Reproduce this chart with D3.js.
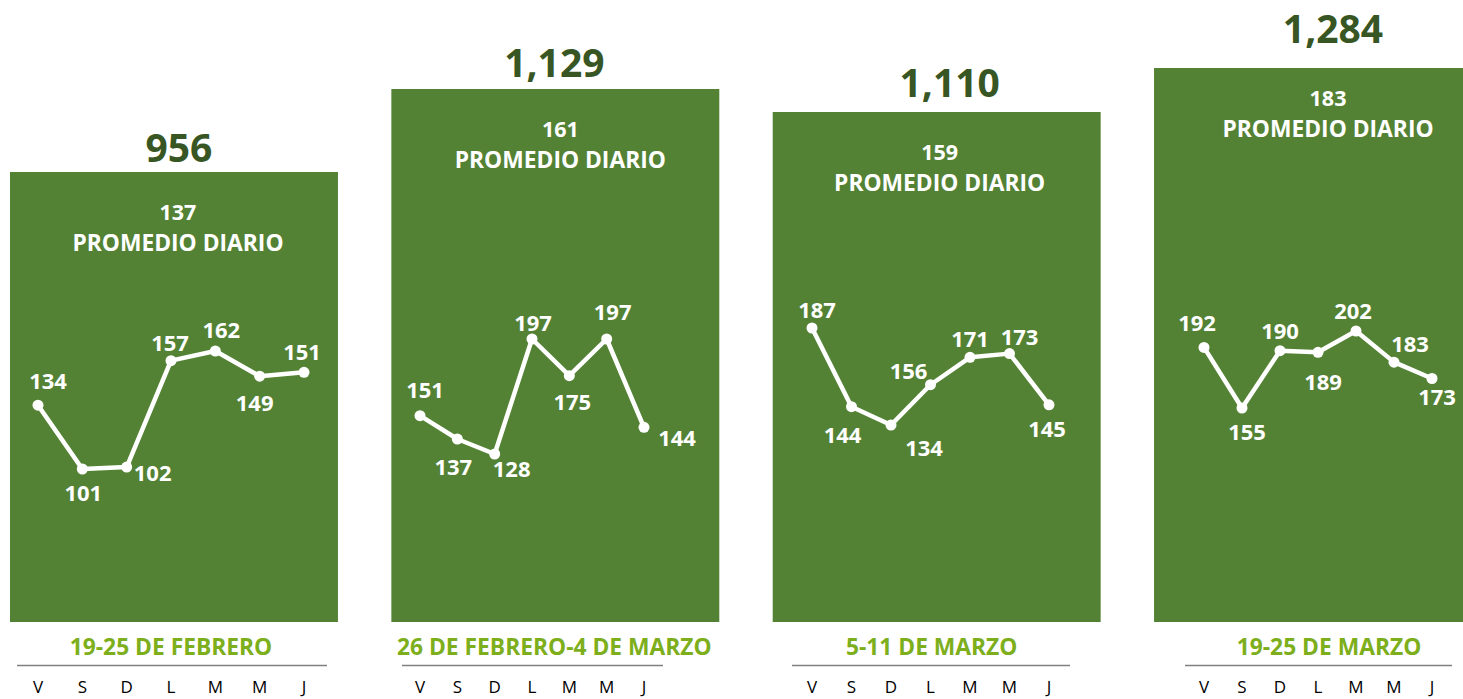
<!DOCTYPE html>
<html>
<head>
<meta charset="utf-8">
<script src="https://cdn.jsdelivr.net/npm/d3@7"></script>
<style>
  body { margin: 0; background: #fff; }
  text { font-family: "Open Sans", "Noto Sans", sans-serif; }
</style>
</head>
<body>
<div id="chart"></div>
<script>
// data
var weeks = ["19-25 DE FEBRERO", "26 DE FEBRERO-4 DE MARZO", "5-11 DE MARZO", "19-25 DE MARZO"];
var totals = [956, 1129, 1110, 1284];
var averages = [137, 161, 159, 183];
var days = ["V", "S", "D", "L", "M", "M", "J"];
var week1 = [134, 101, 102, 157, 162, 149, 151];
var week2 = [151, 137, 128, 197, 175, 197, 144];
var week3 = [187, 144, 134, 156, 171, 173, 145];
var week4 = [192, 155, 190, 189, 202, 183, 173];
var daily = [week1, week2, week3, week4];

// layout for each panel (offsets from the band)
var layout = [
  {xr: [38, 304], yr: [469, 351], totalDx: 5, totalGap: 10, avgDx: 4, avgDy: 0, periodDx: -3, rule: [17, 327],
   lab: [[10,-24],[1,24],[26,6],[-1,-18],[6,-21],[-5,27],[-2,-20]]},
  {xr: [420, 644], yr: [454, 339], totalDx: -1, totalGap: 12, avgDx: 5, avgDy: 0, periodDx: -1, rule: [402, 663],
   lab: [[5,-26],[-4,28],[17,15],[1,-16],[3,26],[6,-27],[33,11]]},
  {xr: [812, 1049], yr: [425, 328], totalDx: 13, totalGap: 15, avgDx: 3, avgDy: 0, periodDx: -5, rule: [792, 1070],
   lab: [[5,-18],[-9,28],[33,23],[-22,-14],[0,-18],[10,-17],[-2,24]]},
  {xr: [1204, 1432], yr: [408, 331], totalDx: 15, totalGap: 25, avgDx: 10, avgDy: -10, periodDx: 11, rule: [1185, 1452],
   lab: [[-7,-24],[5,24],[0,-20],[5,30],[-3,-20],[16,-18],[5,19]]}
];

var width = 1463, height = 699;
var baseY = 622;

var svg = d3.select("#chart")
  .append("svg")
    .attr("width", width)
    .attr("height", height);

var x = d3.scaleBand()
  .domain(d3.range(weeks.length))
  .range([10, 1482])
  .paddingInner(0.14)
  .paddingOuter(0);

// the bars in the original are not strictly proportional, follow them point by point
var barH = d3.scaleLinear()
  .domain([956, 1110, 1129, 1284])
  .range([450, 510, 533, 554]);

var green = "#548235", dark = "#375623", light = "#7DAE1B";

function renderPanel(i) {
  var lay = layout[i];
  var x0 = x(i), cx = x0 + x.bandwidth() / 2;
  var top = baseY - barH(totals[i]);

  svg.append("rect")
    .attr("x", x0)
    .attr("y", top)
    .attr("width", x.bandwidth())
    .attr("height", baseY - top)
    .attr("fill", green);

  // weekly total above the bar
  svg.append("text")
    .attr("x", cx + lay.totalDx)
    .attr("y", top - lay.totalGap)
    .attr("text-anchor", "middle")
    .attr("font-size", 39)
    .attr("font-weight", 700)
    .attr("fill", dark)
    .text(d3.format(",")(totals[i]));

  svg.append("text")
    .attr("x", cx + lay.avgDx)
    .attr("y", top + 48 + lay.avgDy)
    .attr("text-anchor", "middle")
    .attr("font-size", 21.5)
    .attr("font-weight", 700)
    .attr("fill", "#fff")
    .text(averages[i]);
  svg.append("text")
    .attr("x", cx + lay.avgDx)
    .attr("y", top + 79 + lay.avgDy)
    .attr("text-anchor", "middle")
    .attr("font-size", 22.8)
    .attr("font-weight", 700)
    .attr("fill", "#fff")
    .text("PROMEDIO DIARIO");

  // daily line
  var px = d3.scalePoint()
    .domain(d3.range(days.length))
    .range(lay.xr);
  var py = d3.scaleLinear()
    .domain(d3.extent(daily[i]))
    .range(lay.yr);

  var line = d3.line()
    .x(function(d, j) { return px(j); })
    .y(function(d) { return py(d); });

  svg.append("path")
    .datum(daily[i])
    .attr("d", line)
    .attr("fill", "none")
    .attr("stroke", "#fff")
    .attr("stroke-width", 4.5)
    .attr("stroke-linejoin", "round");

  svg.append("g")
    .selectAll("circle")
    .data(daily[i])
    .enter().append("circle")
      .attr("cx", function(d, j) { return px(j); })
      .attr("cy", function(d) { return py(d); })
      .attr("r", 5.5)
      .attr("fill", "#fff");

  svg.append("g")
    .selectAll("text")
    .data(daily[i])
    .enter().append("text")
      .attr("x", function(d, j) { return px(j) + lay.lab[j][0]; })
      .attr("y", function(d, j) { return py(d) + lay.lab[j][1]; })
      .attr("dy", "0.36em")
      .attr("text-anchor", "middle")
      .attr("font-size", 22)
      .attr("font-weight", 700)
      .attr("fill", "#fff")
      .text(function(d) { return d; });

  // period label, rule and day letters
  svg.append("text")
    .attr("x", cx + lay.periodDx)
    .attr("y", 655)
    .attr("text-anchor", "middle")
    .attr("font-size", 22.8)
    .attr("font-weight", 700)
    .attr("fill", light)
    .text(weeks[i]);

  svg.append("line")
    .attr("x1", lay.rule[0])
    .attr("x2", lay.rule[1])
    .attr("y1", 665.5)
    .attr("y2", 665.5)
    .attr("stroke", "#808080")
    .attr("stroke-width", 1.5);

  svg.append("g")
    .selectAll("text")
    .data(days)
    .enter().append("text")
      .attr("x", function(d, j) { return px(j); })
      .attr("y", 693)
      .attr("text-anchor", "middle")
      .attr("font-size", 17)
      .attr("fill", "#000")
      .text(function(d) { return d; });
}

for (var i = 0; i < weeks.length; i++) renderPanel(i);
</script>
</body>
</html>
